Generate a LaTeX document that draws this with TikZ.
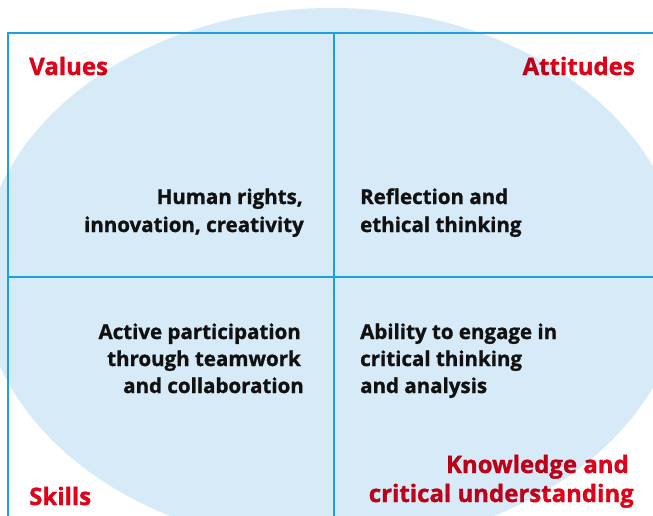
\documentclass[tikz,border=0pt]{standalone}
\usepackage{fontspec}
\setmainfont{Open Sans}[BoldFeatures={FakeBold=1.2}]
\definecolor{ellblue}{HTML}{D6EBF7}
\definecolor{lineblue}{HTML}{1BA1E2}
\definecolor{labred}{HTML}{E3001B}
\definecolor{txt}{HTML}{111111}
\begin{document}
\begin{tikzpicture}[x=1pt,y=-1pt,
  bodyE/.style={anchor=base east,inner sep=0pt,font=\fontsize{20.5}{25}\selectfont\bfseries,text=txt},
  bodyW/.style={anchor=base west,inner sep=0pt,font=\fontsize{20.5}{25}\selectfont\bfseries,text=txt},
  labE/.style={anchor=base east,inner sep=0pt,font=\fontsize{24}{30}\selectfont\bfseries,text=labred},
  labW/.style={anchor=base west,inner sep=0pt,font=\fontsize{24}{30}\selectfont\bfseries,text=labred},
  grid/.style={draw=lineblue,line width=2pt}]
\useasboundingbox (0,0) rectangle (653,515);
\begin{scope}
\clip (0,0) rectangle (653,515);
\fill[ellblue] (332,277) ellipse [x radius=352, y radius=269];
\coordinate (tl) at (7.5,33);
\coordinate (tr) at (660,33);
\coordinate (bl) at (7.5,520);
\coordinate (tm) at (334,33);
\coordinate (bm) at (334,520);
\coordinate (ml) at (7.5,277);
\coordinate (mr) at (660,277);
\draw[grid] (bl) -- (tl) -- (tr);
\draw[grid] (tm) -- (bm);
\draw[grid] (ml) -- (mr);
\end{scope}
\node[bodyE] (h1) at (303,204) {Human rights,};
\node[bodyE] (h2) at (304,232) {innovation, creativity};
\node[bodyW] (r1) at (360,204) {Reflection and};
\node[bodyW] (r2) at (360,232) {ethical thinking};
\node[bodyE] (a1) at (301,339) {Active participation};
\node[bodyE] (a2) at (301,366) {through teamwork};
\node[bodyE] (a3) at (304,393) {and collaboration};
\node[bodyW] (b1) at (360,339) {Ability to engage in};
\node[bodyW] (b2) at (360,366) {critical thinking};
\node[bodyW] (b3) at (360,393) {and analysis};
\begin{scope}[blend mode=multiply]
\node[labW] (val) at (29,75) {Values};
\node[labE] (att) at (635,75) {Attitudes};
\node[labW] (sk) at (29,505) {Skills};
\node[labE] (k1) at (629,473) {Knowledge and};
\node[labE] (k2) at (634,502) {critical understanding};
\end{scope}
\end{tikzpicture}
\end{document}
